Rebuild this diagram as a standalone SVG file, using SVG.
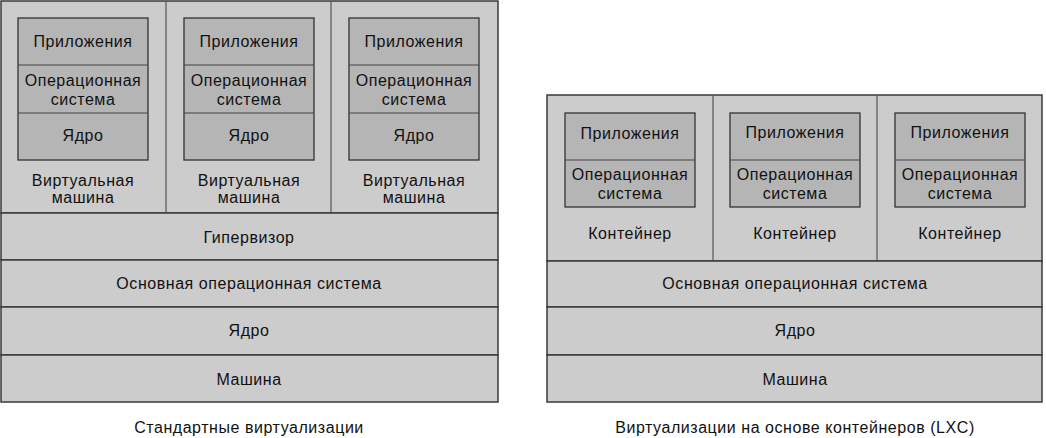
<svg xmlns="http://www.w3.org/2000/svg" width="1046" height="438" viewBox="0 0 1046 438">
<style>
.outer{fill:#cccccc;stroke:#3a3a3a;stroke-width:1.5}
.div{stroke:#555;stroke-width:1.2;fill:none}
.inner{fill:#b5b5b5;stroke:#333;stroke-width:1.3}
.row{stroke:#444;stroke-width:1.2}
text{font-family:"Liberation Sans",Arial,sans-serif;font-size:16px;letter-spacing:0.55px;fill:#111;text-anchor:middle}
</style>
<rect width="1046" height="438" fill="#fff"/>
<g id="left">
<g id="L-vms">
<rect class="outer" x="1" y="1" width="497" height="212"/>
<line class="div" x1="166" y1="1" x2="166" y2="213"/>
<line class="div" x1="331" y1="1" x2="331" y2="213"/>
</g>
<g id="vm1">
<rect class="inner" x="18" y="18" width="130" height="142"/>
<line class="row" x1="18" y1="65" x2="148" y2="65"/>
<line class="row" x1="18" y1="113" x2="148" y2="113"/>
<text x="83" y="47">Приложения</text>
<text x="83" y="86">Операционная</text>
<text x="83" y="105">система</text>
<text x="83" y="141">Ядро</text>
<text x="83" y="186">Виртуальная</text>
<text x="83" y="203">машина</text>
</g>
<g id="vm2">
<rect class="inner" x="184" y="18" width="130" height="142"/>
<line class="row" x1="184" y1="65" x2="314" y2="65"/>
<line class="row" x1="184" y1="113" x2="314" y2="113"/>
<text x="249" y="47">Приложения</text>
<text x="249" y="86">Операционная</text>
<text x="249" y="105">система</text>
<text x="249" y="141">Ядро</text>
<text x="249" y="186">Виртуальная</text>
<text x="249" y="203">машина</text>
</g>
<g id="vm3">
<rect class="inner" x="349" y="18" width="130" height="142"/>
<line class="row" x1="349" y1="65" x2="479" y2="65"/>
<line class="row" x1="349" y1="113" x2="479" y2="113"/>
<text x="414" y="47">Приложения</text>
<text x="414" y="86">Операционная</text>
<text x="414" y="105">система</text>
<text x="414" y="141">Ядро</text>
<text x="414" y="186">Виртуальная</text>
<text x="414" y="203">машина</text>
</g>
<g id="L-hyper"><rect class="outer" x="1" y="213" width="497" height="47"/><text x="249" y="243">Гипервизор</text></g>
<g id="L-os"><rect class="outer" x="1" y="260" width="497" height="47"/><text x="249" y="289">Основная операционная система</text></g>
<g id="L-kernel"><rect class="outer" x="1" y="307" width="497" height="48"/><text x="249" y="336">Ядро</text></g>
<g id="L-machine"><rect class="outer" x="1" y="355" width="497" height="47"/><text x="249" y="385">Машина</text></g>
<text id="L-caption" x="249" y="433">Стандартные виртуализации</text>
</g>
<g id="right">
<g id="R-containers">
<rect class="outer" x="547" y="95" width="495" height="166"/>
<line class="div" x1="713" y1="95" x2="713" y2="261"/>
<line class="div" x1="877" y1="95" x2="877" y2="261"/>
</g>
<g id="c1">
<rect class="inner" x="565" y="113" width="130" height="94"/>
<line class="row" x1="565" y1="160" x2="695" y2="160"/>
<text x="630" y="139">Приложения</text>
<text x="630" y="180">Операционная</text>
<text x="630" y="199">система</text>
<text x="630" y="239">Контейнер</text>
</g>
<g id="c2">
<rect class="inner" x="730" y="113" width="130" height="94"/>
<line class="row" x1="730" y1="160" x2="860" y2="160"/>
<text x="795" y="138">Приложения</text>
<text x="795" y="180">Операционная</text>
<text x="795" y="199">система</text>
<text x="795" y="239">Контейнер</text>
</g>
<g id="c3">
<rect class="inner" x="895" y="113" width="130" height="94"/>
<line class="row" x1="895" y1="160" x2="1025" y2="160"/>
<text x="960" y="138">Приложения</text>
<text x="960" y="180">Операционная</text>
<text x="960" y="199">система</text>
<text x="960" y="239">Контейнер</text>
</g>
<g id="R-os"><rect class="outer" x="547" y="261" width="495" height="46"/><text x="795" y="289">Основная операционная система</text></g>
<g id="R-kernel"><rect class="outer" x="547" y="307" width="495" height="48"/><text x="795" y="336">Ядро</text></g>
<g id="R-machine"><rect class="outer" x="547" y="355" width="495" height="47"/><text x="795" y="385">Машина</text></g>
<text id="R-caption" x="795" y="433">Виртуализации на основе контейнеров (LXC)</text>
</g>
</svg>
